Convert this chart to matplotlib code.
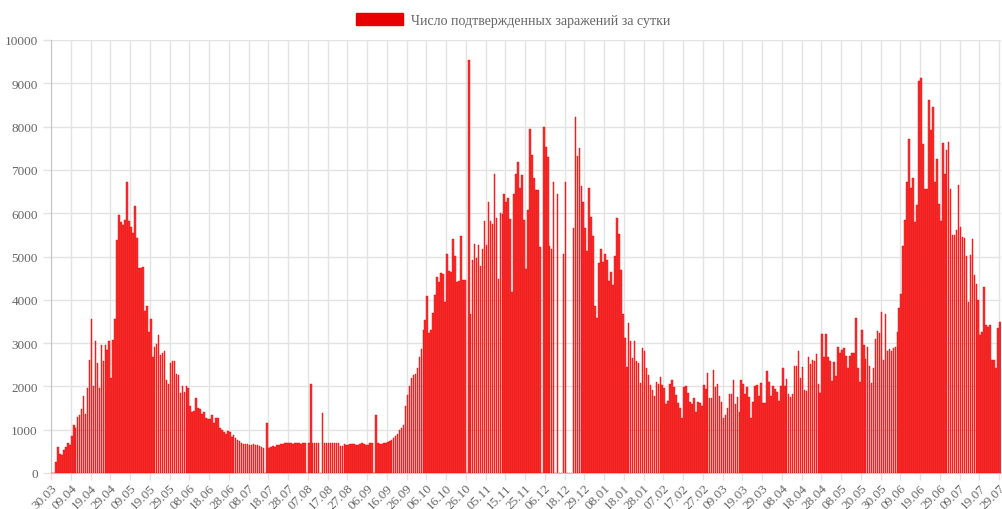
import numpy as np
import matplotlib
matplotlib.use("Agg")
from matplotlib import pyplot as plt
from matplotlib.patches import Patch

# daily confirmed cases, one value per category (0 = no data that day)
cases_spring = [0, 0, 250, 590, 440, 420, 530, 590, 690, 650, 850, 1110, 1040, 1300, 1350, 1480,
                1770, 1360, 1960, 2620, 3560, 2020, 3060, 2540, 1960, 2950, 2590, 2960, 2850, 3060,
                2200, 3080, 3550, 5380, 5950, 5790, 5720, 5850, 6720, 5830,
                5670, 5550, 6170, 5420, 4730, 4730, 4760, 3730, 3850, 3250, 3550, 2690, 2900, 2990,
                3180, 2720, 2760, 2820, 2150, 2050, 2540, 2580, 2590, 2280, 2270, 1850, 2000, 1860,
                2000, 1960, 1550, 1410, 1440, 1730, 1500, 1480, 1360, 1420, 1280]
cases_summer = [1250, 1250, 1350, 1160, 1280, 1280, 1040,
                1000, 950, 910, 980, 950, 820, 870, 800, 760, 740, 700, 680, 670, 660,
                650, 640, 660, 650, 640, 630, 600, 580, 0, 1150,
                580, 590, 620, 600, 640, 650, 660, 680, 690, 690,
                690, 690, 680, 690, 700, 690, 680, 700, 700, 0, 690, 2060, 690, 690, 690, 690, 0,
                1380, 690, 690, 690, 690, 690, 690, 690, 690, 615, 630, 660, 640, 640, 670, 680,
                670, 650, 640, 680, 690, 670, 650, 640]
cases_autumn = [700, 700, 0, 1330, 700, 680, 670, 690, 700, 720, 740, 770, 800, 850, 900, 1000,
                1050, 1100, 1550, 1800, 2020, 2200, 2270, 2280, 2420, 2690, 2870, 3300, 3540, 4080,
                3230, 3300, 3690, 4120, 4520, 4410, 4630, 4590, 3960, 5050, 4670,
                4640, 5410, 5020, 4420, 4440, 5480, 4460, 4460, 0, 9540, 3670, 4920, 5280, 4960,
                5270, 4790, 5170, 5830, 5260, 6250, 5830, 5750, 6910, 5900, 4480, 6000, 5980, 6440,
                6270, 6360, 5870, 4170, 6450, 6910, 7180, 6580, 6880, 5840, 4710, 6080]
cases_winter = [7940, 7350, 6810, 6530, 6530, 5220, 0, 8000, 7520, 7290, 5250, 5170, 6730, 0, 6440,
                0, 0, 5050, 6720, 0, 0, 0, 5650, 8220, 7330, 7500, 6630, 6270, 5650, 5130, 6580,
                5920, 5480, 3860, 3590, 4860, 5170, 4880, 5050, 4920, 4440,
                4650, 4350, 5020, 5900, 5530, 4680, 3680, 3120, 2440, 3460, 3040, 2650, 3060, 2590,
                2530, 2070, 2880, 2810, 2420, 2270, 2040, 1920, 1770, 2100, 2050, 2210, 2040, 1960,
                1590, 1670, 2050, 2150, 1980, 1790, 1620, 1500, 1280, 1980, 2000, 1850,
                1640, 1590, 1730, 1410, 1640, 1620, 1550, 2040, 1950, 2320, 1730, 1730, 2380, 1980,
                2050, 1770, 1650, 1280, 1330, 1500, 1830, 1830, 2140, 1590, 1750, 1420, 2150, 2050,
                1830, 1980, 1750, 1270, 1650, 2020, 2040, 1780, 2090, 1620, 1620, 2360]
cases_2021 = [2100, 1780, 2020, 1940, 1880, 1660, 2020, 2420, 2000, 2180, 1830, 1760, 1830, 2460,
              2480, 2810, 2200, 2450, 1910, 1900, 2680, 2520, 2600, 2590, 2740, 2060, 1850, 3200,
              2680, 3200, 2670, 2590, 2120, 2560, 2240, 2900, 2780, 2850, 2890, 2700, 2420,
              2710, 2780, 2780, 3580, 2420, 2100, 3310, 2950, 2640, 2910, 2460, 2080, 2420, 3100,
              3270, 3230, 3720, 2610, 3670, 2820, 2860, 2810, 2880, 2920, 3250, 3820, 4130, 5250,
              5850, 6720, 7720, 6590, 6810, 5790, 6190, 9050, 9120, 7590, 6570, 6550,
              8620, 7920, 8460, 6730, 7250, 6220, 5820, 7620, 6900, 7450, 7640, 6550, 5500, 5500,
              5620, 6650, 5690, 5440, 5420, 5010, 3960, 5040, 5410, 4570, 4360, 4000, 3190, 3250,
              4300, 3420, 3380, 3420, 2620, 2620, 2420, 3350, 3480]

tick_labels = ['30.03', '09.04', '19.04', '29.04', '09.05', '19.05', '29.05', '08.06', '18.06',
               '28.06', '08.07', '18.07', '28.07', '07.08', '17.08', '27.08', '06.09', '16.09',
               '26.09', '06.10', '16.10', '26.10', '05.11', '15.11', '25.11', '06.12', '18.12',
               '29.12', '08.01', '18.01', '28.01', '07.02', '17.02', '27.02', '09.03', '19.03',
               '29.03', '08.04', '18.04', '28.04', '08.05', '20.05', '30.05', '09.06', '19.06',
               '29.06', '09.07', '19.07', '29.07']

values = cases_spring + cases_summer + cases_autumn + cases_winter + cases_2021
x = np.arange(len(values))

plt.rcParams['font.family'] = ['Liberation Serif', 'DejaVu Serif']

W, H = 1003, 510
fig = plt.figure(figsize=(W / 100, H / 100), dpi=100)
ax = fig.add_axes([51 / W, 1 - 474 / H, (1001 - 51) / W, (474 - 41) / H])

ax.bar(x + 0.1, values, width=0.8, align='edge', color='#ef3434',
       edgecolor='#ff0000', linewidth=0.3, zorder=3)

ax.set_xlim(0, len(values))
ax.set_ylim(0, 10000)
ax.set_yticks(np.arange(0, 10001, 1000))
ax.set_xticks(np.arange(0, 10 * len(tick_labels), 10))
ax.set_xticklabels(tick_labels, rotation=45, ha='right', rotation_mode='anchor')

ax.grid(True, color='#e3e3e3', linewidth=1, zorder=0)
for side in ['top', 'right']:
    ax.spines[side].set_visible(False)
for side in ['left', 'bottom']:
    ax.spines[side].set_color('#c4c4c4')
ax.tick_params(axis='both', colors='#e3e3e3', labelcolor='#666666', labelsize=9.5,
               length=6, width=1)
ax.tick_params(axis='x', pad=1, length=5)

fig.legend(handles=[Patch(facecolor='#e80000', edgecolor='#e80000')],
           labels=['Число подтвержденных заражений за сутки'],
           loc='center', bbox_to_anchor=(513 / W, 1 - 21 / H), frameon=False,
           handlelength=3.4, handleheight=1.0, handletextpad=0.6,
           prop={'size': 10}, labelcolor='#666666')

fig.savefig('out.png', dpi=100)
